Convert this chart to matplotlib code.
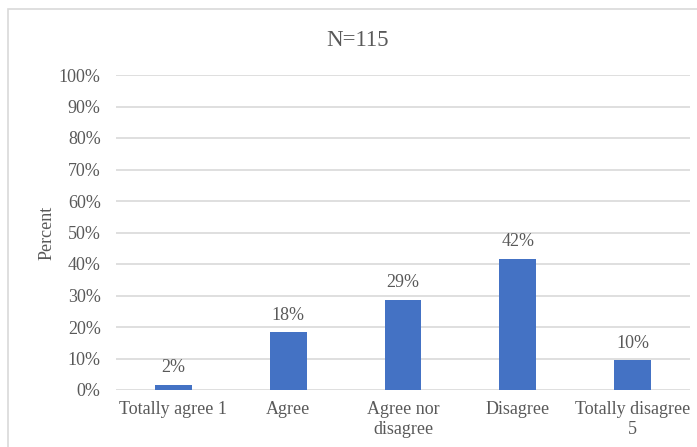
import matplotlib.pyplot as plt
from matplotlib.patches import Rectangle
from matplotlib.ticker import PercentFormatter
import numpy as np

# survey answers (counts out of N)
categories = ["Totally agree 1", "Agree", "Agree nor\ndisagree", "Disagree", "Totally disagree\n5"]
counts = [2, 21, 33, 48, 11]
n_total = 115

percent = [100.0 * c / n_total for c in counts]

plt.rcParams['font.family'] = ['Liberation Serif', 'DejaVu Serif']
txt = '#595959'
grid = '#D9D9D9'

fig = plt.figure(figsize=(6.97, 4.47), dpi=100)
ax = fig.add_axes([116/697, 1-390/447, (690-116)/697, (390-75)/447])

# chart frame
fig.patches.append(Rectangle((8/697, -0.05), 1.05, 1-9/447+0.05, transform=fig.transFigure,
                             fill=False, edgecolor=grid, linewidth=1.2))

x = np.arange(len(categories))
ax.bar(x, percent, width=0.32, color='#4472C4', zorder=3)
for xi, p in zip(x, percent):
    ax.annotate("%d%%" % round(p), (xi, p), xytext=(0, 6), textcoords='offset points',
                ha='center', va='bottom', fontsize=13, color=txt)

ax.set_xlim(-0.5, len(categories) - 0.5)
ax.set_ylim(0, 100)
ax.set_yticks(np.arange(0, 101, 10))
ax.yaxis.set_major_formatter(PercentFormatter(decimals=0))
ax.set_xticks(x)
ax.set_xticklabels(categories, fontsize=13, color=txt, linespacing=1.25)
ax.tick_params(axis='y', labelsize=13, labelcolor=txt, length=0, pad=11)
ax.tick_params(axis='x', length=0, pad=8)
ax.grid(axis='y', color=grid, linewidth=1.2, zorder=0)
for s in ax.spines.values():
    s.set_visible(False)

ax.set_ylabel("Percent", fontsize=13, color=txt)
ax.yaxis.set_label_coords(-0.106, 0.5)
fig.text(358/697, 1-40/447, "N=115", ha='center', va='center', fontsize=16.5, color=txt)

fig.savefig("out.png", dpi=100)
